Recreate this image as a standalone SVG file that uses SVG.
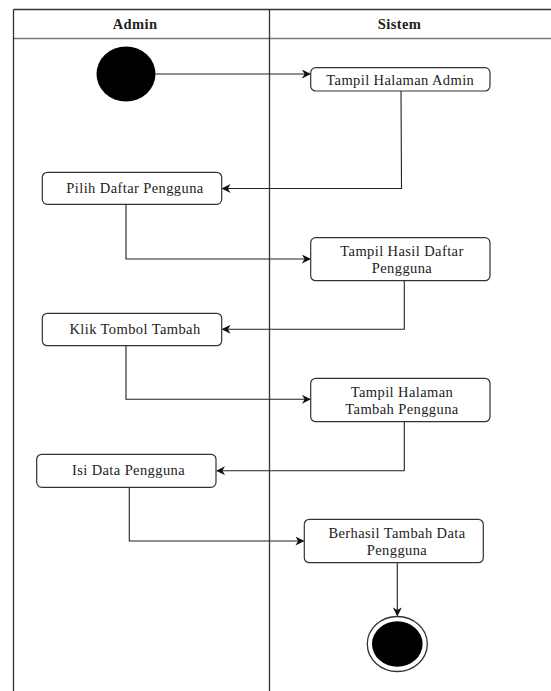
<svg xmlns="http://www.w3.org/2000/svg" width="551" height="691" viewBox="0 0 551 691">
<style>
.lane{stroke:#333;stroke-width:1.3;fill:none}
.node{fill:#fff;stroke:#333;stroke-width:1.2}
text{font-family:"Liberation Serif","Times New Roman",serif;font-size:14.5px;letter-spacing:0.4px;fill:#222;text-anchor:middle}
.h{font-weight:bold}
.c{stroke:#222;stroke-width:1.1;fill:none;marker-end:url(#arr)}
</style>
<defs>
<marker id="arr" viewBox="0 0 10 10" refX="9" refY="5" markerWidth="9" markerHeight="9" markerUnits="userSpaceOnUse" orient="auto">
<path d="M0,0 L10,5 L0,10 L3,5 Z" fill="#111"/>
</marker>
</defs>
<rect width="551" height="691" fill="#fff"/>
<g id="swimlanes">
<line class="lane" x1="13.5" y1="9.5" x2="551" y2="9.5"/>
<line x1="13.5" y1="38.5" x2="551" y2="38.5" stroke="#777" stroke-width="1.3"/>
<line class="lane" x1="13.5" y1="9.5" x2="13.5" y2="691"/>
<line class="lane" x1="269.5" y1="9.5" x2="269.5" y2="691"/>
<text class="h" font-family="Liberation Serif, serif" x="135" y="29">Admin</text>
<text class="h" font-family="Liberation Serif, serif" x="399.5" y="29">Sistem</text>
</g>
<g id="connectors">
<path class="c" d="M155.5,74 H310"/>
<path class="c" d="M401,91 L401.5,188.5 H222.5"/>
<path class="c" d="M126,204.5 V259 H310"/>
<path class="c" d="M404.3,280.7 V329.3 H222.5"/>
<path class="c" d="M126,345.7 V399.3 H310"/>
<path class="c" d="M404.3,421.7 V470.7 H217"/>
<path class="c" d="M129.3,487.3 V541 H303.5"/>
<path class="c" d="M397.3,562.7 V615.5"/>
</g>
<g id="start"><ellipse cx="126" cy="74" rx="29.5" ry="27.5" fill="#000"/></g>
<g id="n1"><rect class="node" x="310.7" y="67.7" width="179.3" height="23.3" rx="5"/><text x="400.3" y="84.5">Tampil Halaman Admin</text></g>
<g id="n2"><rect class="node" x="42.3" y="172.3" width="179.4" height="32" rx="5"/><text x="135" y="193">Pilih Daftar Pengguna</text></g>
<g id="n3"><rect class="node" x="310.7" y="237.7" width="179.3" height="43" rx="5"/><text x="402" y="256">Tampil Hasil Daftar</text><text x="402" y="273">Pengguna</text></g>
<g id="n4"><rect class="node" x="42.3" y="313.3" width="179.4" height="32.4" rx="5"/><text x="135" y="334">Klik Tombol Tambah</text></g>
<g id="n5"><rect class="node" x="310.7" y="378.3" width="179.3" height="43.4" rx="5"/><text x="402" y="397">Tampil Halaman</text><text x="402" y="414">Tambah Pengguna</text></g>
<g id="n6"><rect class="node" x="36.7" y="454.3" width="179.3" height="33" rx="5"/><text x="128.5" y="475">Isi Data Pengguna</text></g>
<g id="n7"><rect class="node" x="304.3" y="519.3" width="179" height="43.4" rx="5"/><text x="397" y="538">Berhasil Tambah Data</text><text x="397" y="555">Pengguna</text></g>
<g id="end"><ellipse cx="397.3" cy="644" rx="30" ry="27.5" fill="#fff" stroke="#333" stroke-width="1.3"/><ellipse cx="397.3" cy="644" rx="25.3" ry="22.8" fill="#000"/></g>
</svg>
